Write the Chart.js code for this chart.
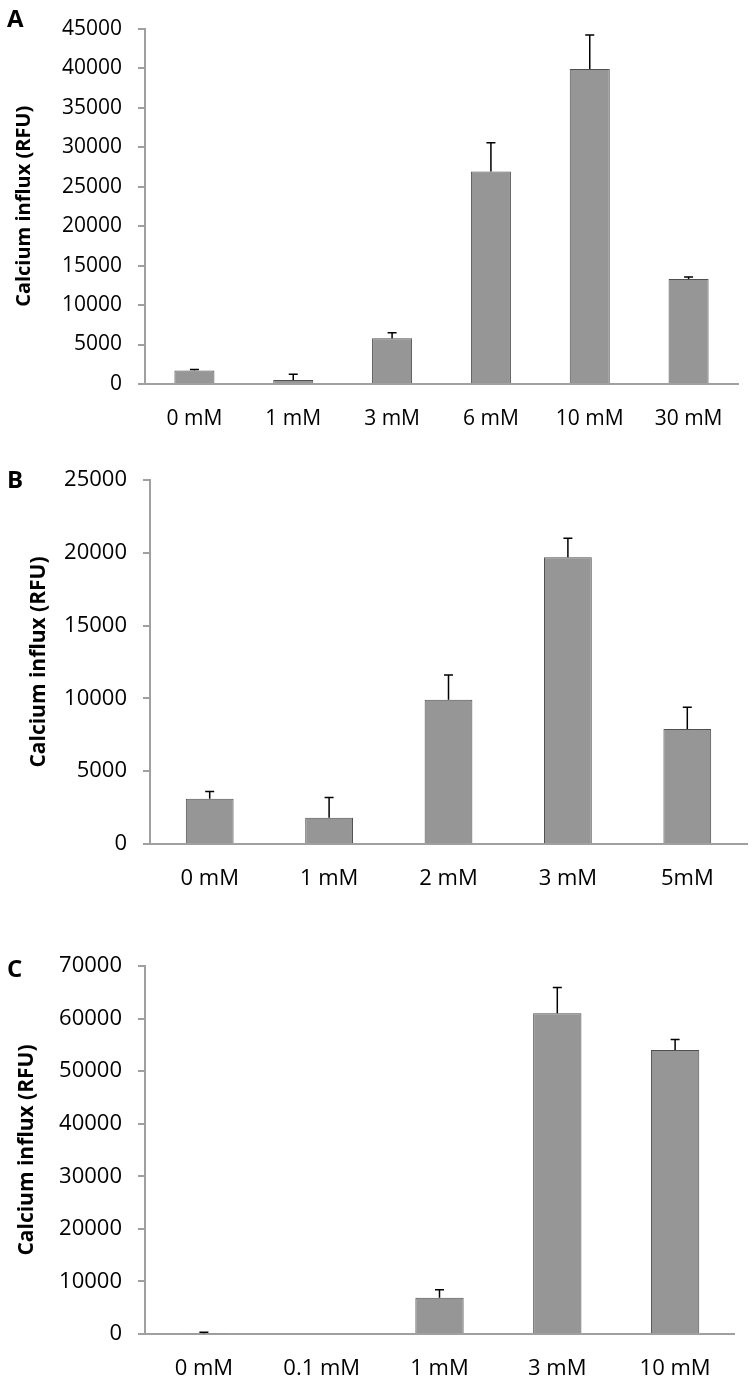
<!DOCTYPE html>
<html>
<head>
<meta charset="utf-8">
<script src="https://cdn.jsdelivr.net/npm/chart.js@4.4.1/dist/chart.umd.min.js"></script>
<style>
    body { margin: 0; background: #ffffff; }
    .panel { position: absolute; left: 0; width: 754px; }
</style>
</head>
<body>
<div class="panel" style="top:0px; height:440px;"><canvas id="chart_a"></canvas></div>
<div class="panel" style="top:440px; height:460px;"><canvas id="chart_b"></canvas></div>
<div class="panel" style="top:900px; height:482px;"><canvas id="chart_c"></canvas></div>
<script>
// A
const labels_a  = ["0 mM", "1 mM", "3 mM", "6 mM", "10 mM", "30 mM"];
const values_a  = [1700, 500, 5800, 26900, 39900, 13300];
const errors_a  = [150, 750, 700, 3650, 4300, 250];
const y_max_a   = 45000;
const y_step_a  = 5000;

// B
const labels_b  = ["0 mM", "1 mM", "2 mM", "3 mM", "5mM"];
const values_b  = [3100, 1800, 9900, 19700, 7900];
const errors_b  = [500, 1400, 1700, 1300, 1500];
const y_max_b   = 25000;
const y_step_b  = 5000;

// C
const labels_c  = ["0 mM", "0.1 mM", "1 mM", "3 mM", "10 mM"];
const values_c  = [150, 0, 6900, 61000, 54000];
const errors_c  = [200, 0, 1500, 4900, 2000];
const y_max_c   = 70000;
const y_step_c  = 10000;

const y_title   = "Calcium influx (RFU)";

Chart.defaults.font.family = "'Open Sans'";
Chart.defaults.color = "#000000";

const AXIS_COLOR = "#a0a0a0";

const error_bars = {
    id: "error_bars",
    afterDatasetsDraw: function(chart) {
        let ctx     = chart.ctx;
        let ds      = chart.data.datasets[0];
        let meta    = chart.getDatasetMeta(0);
        let y_scale = chart.scales.y;
        ctx.save();
        ctx.strokeStyle = "#000000";
        ctx.lineWidth   = 1.5;
        meta.data.forEach(function(bar, i) {
            if (!ds.errors[i]) return;
            let y0 = y_scale.getPixelForValue(ds.data[i]);
            let y1 = y_scale.getPixelForValue(ds.data[i] + ds.errors[i]);
            ctx.beginPath();
            ctx.moveTo(bar.x, y0);
            ctx.lineTo(bar.x, y1);
            ctx.moveTo(bar.x - 4.5, y1);
            ctx.lineTo(bar.x + 4.5, y1);
            ctx.stroke();
        });
        ctx.restore();
    }
};

const panel_letter = {
    id: "panel_letter",
    afterDraw: function(chart, args, opts) {
        let ctx = chart.ctx;
        ctx.save();
        ctx.font = "bold 24px 'Open Sans'";
        ctx.fillStyle = "#000000";
        ctx.textBaseline = "alphabetic";
        ctx.fillText(opts.text, 7, opts.y);
        ctx.restore();
    }
};

function draw_panel(canvas_id, labels, values, errors, y_max, y_step, p) {
    const ctx = document.getElementById(canvas_id).getContext("2d");
    return new Chart(ctx, {
        type: "bar",
        data: {
            labels: labels,
            datasets: [{
                data: values,
                errors: errors,
                backgroundColor: "#969696",
                borderColor: "#4f4f4f",
                borderWidth: 1,
                categoryPercentage: 1.0,
                barPercentage: p.bar_pct
            }]
        },
        options: {
            responsive: true,
            maintainAspectRatio: false,
            animation: false,
            layout: {
                padding: { top: p.pad_top, right: p.pad_right, left: 0, bottom: 0 }
            },
            scales: {
                x: {
                    grid: { display: false, drawTicks: false },
                    border: { display: true, color: AXIS_COLOR, width: 2 },
                    ticks: { padding: 22, font: { size: p.tick_size }, color: "#000000" },
                    afterFit: function(scale) { scale.height = p.x_h; }
                },
                y: {
                    min: 0,
                    max: y_max,
                    ticks: {
                        stepSize: y_step,
                        padding: 16,
                        font: { size: p.tick_size },
                        color: "#000000",
                        callback: function(value) { return String(value); }
                    },
                    grid: { display: true, drawOnChartArea: false, drawTicks: true, tickLength: 7, color: AXIS_COLOR, lineWidth: 2 },
                    border: { display: true, color: AXIS_COLOR, width: 2 },
                    title: {
                        display: true,
                        text: y_title,
                        color: "#000000",
                        font: { size: p.title_size, weight: "bold" },
                        padding: { top: p.title_pad, bottom: 0 }
                    },
                    afterFit: function(scale) { scale.width = p.axis_w; }
                }
            },
            plugins: {
                legend: { display: false },
                tooltip: { enabled: false },
                panel_letter: { text: p.letter, y: p.letter_y }
            }
        },
        plugins: [error_bars, panel_letter]
    });
}

draw_panel("chart_a", labels_a, values_a, errors_a, y_max_a, y_step_a,
    { letter: "A", letter_y: 27, axis_w: 145, x_h: 56, pad_top: 15, pad_right: 16, bar_pct: 0.405, tick_size: 21, title_size: 20, title_pad: 12 });
draw_panel("chart_b", labels_b, values_b, errors_b, y_max_b, y_step_b,
    { letter: "B", letter_y: 488 - 440, axis_w: 150, x_h: 56, pad_top: 40, pad_right: 7, bar_pct: 0.40, tick_size: 22, title_size: 21, title_pad: 26 });
draw_panel("chart_c", labels_c, values_c, errors_c, y_max_c, y_step_c,
    { letter: "C", letter_y: 977 - 900, axis_w: 145, x_h: 48, pad_top: 66, pad_right: 20, bar_pct: 0.41, tick_size: 22, title_size: 21, title_pad: 14 });
</script>
</body>
</html>
